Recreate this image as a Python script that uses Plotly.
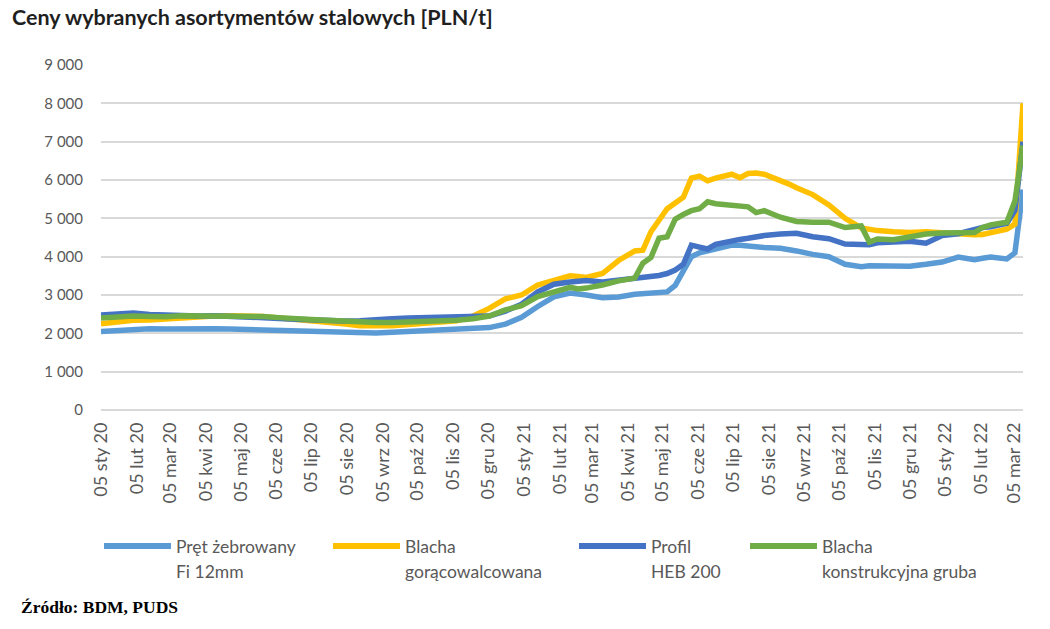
import plotly.graph_objects as go

dates = [
    "2020-01-05", "2020-01-19", "2020-02-02", "2020-02-16", "2020-03-01", "2020-03-15",
    "2020-03-29", "2020-04-12", "2020-04-26", "2020-05-10", "2020-05-24", "2020-06-07",
    "2020-06-21", "2020-07-05", "2020-07-19", "2020-08-02", "2020-08-16", "2020-08-30",
    "2020-09-13", "2020-09-27", "2020-10-11", "2020-10-25", "2020-11-08", "2020-11-22",
    "2020-12-06", "2020-12-20", "2021-01-03", "2021-01-17", "2021-01-31", "2021-02-14",
    "2021-02-21", "2021-02-28", "2021-03-14", "2021-03-28", "2021-04-11", "2021-04-18",
    "2021-04-25", "2021-05-02", "2021-05-09", "2021-05-16", "2021-05-23", "2021-05-30",
    "2021-06-06", "2021-06-13", "2021-06-20", "2021-07-04", "2021-07-11", "2021-07-18",
    "2021-07-25", "2021-08-01", "2021-08-15", "2021-08-22", "2021-08-29", "2021-09-12",
    "2021-09-26", "2021-10-10", "2021-10-24", "2021-10-31", "2021-11-07", "2021-11-21",
    "2021-12-05", "2021-12-19", "2022-01-02", "2022-01-16", "2022-01-30", "2022-02-06",
    "2022-02-13", "2022-02-27", "2022-03-06", "2022-03-13",
]

pret = [
    2050, 2080, 2120, 2120, 2110, 2120,
    2110, 2120, 2110, 2100, 2080, 2060,
    2040, 2030, 2020, 2010, 2000, 2010,
    2030, 2050, 2070, 2090, 2100, 2120,
    2150, 2240, 2420, 2700, 2950, 3050,
    3030, 3000, 2930, 2950, 3020, 3040,
    3050, 3060, 3080, 3250, 3650, 4000,
    4100, 4150, 4200, 4300, 4300, 4270,
    4260, 4240, 4220, 4200, 4150, 4060,
    4000, 3800, 3740, 3760, 3760, 3750,
    3750, 3800, 3860, 3990, 3920, 3960,
    3990, 3940, 4100, 5750,
]

blacha_gor = [
    2250, 2300, 2340, 2350, 2380, 2400,
    2430, 2450, 2460, 2460, 2440, 2400,
    2370, 2340, 2300, 2250, 2200, 2190,
    2200, 2230, 2260, 2290, 2330, 2450,
    2650, 2900, 3000, 3260, 3390, 3500,
    3480, 3460, 3560, 3900, 4150, 4170,
    4650, 4950, 5250, 5400, 5550, 6050,
    6100, 5980, 6050, 6150, 6060, 6170,
    6180, 6150, 6000, 5900, 5800, 5620,
    5350, 5000, 4750, 4700, 4680, 4650,
    4630, 4650, 4620, 4580, 4570, 4580,
    4620, 4720, 4850, 8000,
]

profil = [
    2480, 2510, 2530, 2490, 2480, 2440,
    2450, 2460, 2450, 2440, 2420, 2390,
    2370, 2350, 2340, 2320, 2330, 2340,
    2380, 2400, 2410, 2420, 2420, 2430,
    2450, 2580, 2760, 3080, 3280, 3340,
    3360, 3380, 3340, 3390, 3430, 3440,
    3470, 3510, 3560, 3650, 3800, 4300,
    4250, 4200, 4320, 4420, 4450, 4480,
    4520, 4550, 4590, 4600, 4610, 4520,
    4470, 4330, 4300, 4310, 4360, 4390,
    4400, 4350, 4550, 4600, 4730, 4760,
    4780, 4870, 5200, 7000,
]

blacha_konstr = [
    2400, 2440, 2450, 2440, 2430, 2460,
    2460, 2470, 2460, 2460, 2440, 2410,
    2370, 2360, 2340, 2310, 2290, 2280,
    2280, 2290, 2310, 2320, 2340, 2380,
    2450, 2610, 2720, 2960, 3080, 3200,
    3160, 3180, 3260, 3370, 3440, 3830,
    3980, 4480, 4520, 4980, 5100, 5200,
    5250, 5430, 5380, 5350, 5330, 5300,
    5150, 5200, 5030, 4960, 4920, 4900,
    4900, 4760, 4800, 4380, 4460, 4440,
    4520, 4590, 4620, 4620, 4630, 4760,
    4830, 4900, 5450, 6900,
]

series_line1 = ["Pręt żebrowany", "Blacha", "Profil", "Blacha"]
series_line2 = ["Fi 12mm", "gorącowalcowana", "HEB 200", "konstrukcyjna gruba"]
series_colors = ["#5B9BD5", "#FFC000", "#4472C4", "#70AD47"]
series_values = [pret, blacha_gor, profil, blacha_konstr]

month_abbr = ["sty", "lut", "mar", "kwi", "maj", "cze", "lip", "sie", "wrz", "paź", "lis", "gru"]
tick_dates = []
tick_labels = []
for year in (2020, 2021, 2022):
    for m in range(12):
        if year == 2022 and m > 2:
            break
        tick_dates.append(f"{year}-{m+1:02d}-05")
        tick_labels.append(f"05 {month_abbr[m]} {str(year)[2:]}")

y_ticks = [0, 1000, 2000, 3000, 4000, 5000, 6000, 7000, 8000, 9000]
y_labels = ["0", "1 000", "2 000", "3 000", "4 000", "5 000", "6 000", "7 000", "8 000", "9 000"]

# layout geometry (page margin removed by post_script, figure fills the window)
FIG_W, FIG_H = 1050, 629
L, T, R, B = 101, 65, 27, 219
PW = FIG_W - L - R
PH = FIG_H - T - B


def px(xw):
    return (xw - L) / PW


def py(yw):
    return (FIG_H - B - yw) / PH


fig = go.Figure()
for name, color, vals in zip(series_line1, series_colors, series_values):
    fig.add_trace(go.Scatter(x=dates, y=vals, mode="lines", name=name,
                             line=dict(color=color, width=5.5), showlegend=False))

font_main = "Lato, 'Open Sans', sans-serif"
fig.update_layout(
    width=FIG_W, height=FIG_H,
    paper_bgcolor="white", plot_bgcolor="white",
    margin=dict(l=L, r=R, t=T, b=B, autoexpand=False),
    font=dict(family=font_main, size=15, color="#595959"),
    showlegend=False,
    xaxis=dict(type="date", range=["2020-01-05", "2022-03-13"],
               tickvals=tick_dates, ticktext=tick_labels, tickangle=-90,
               showgrid=False, showline=False, zeroline=False, ticks="",
               ticklabelstandoff=8, tickfont=dict(size=18, color="#595959")),
    yaxis=dict(range=[0, 9000], tickvals=y_ticks, ticktext=y_labels,
               showgrid=True, gridcolor="#D9D9D9", gridwidth=1.5,
               zeroline=True, zerolinecolor="#D9D9D9", zerolinewidth=1.5,
               showline=False, ticks="", ticklabelstandoff=17,
               tickfont=dict(size=15, color="#595959")),
)

# title
fig.add_annotation(text="<b>Ceny wybranych asortymentów stalowych [PLN/t]</b>",
                   xref="paper", yref="paper", x=px(10), y=py(17),
                   xanchor="left", yanchor="middle", showarrow=False,
                   font=dict(family=font_main, size=21.5, color="#1F1F1F"))

# custom legend (long line samples like the original)
leg_line_x = [(104, 171), (333, 400), (579, 646), (750, 817)]
for (x0, x1), color, t1, t2 in zip(leg_line_x, series_colors, series_line1, series_line2):
    fig.add_shape(type="line", xref="paper", yref="paper",
                  x0=px(x0), x1=px(x1), y0=py(546), y1=py(546),
                  line=dict(color=color, width=6))
    fig.add_annotation(text=t1, xref="paper", yref="paper", x=px(x1 + 3), y=py(546),
                       xanchor="left", yanchor="middle", showarrow=False,
                       font=dict(family=font_main, size=17.5, color="#595959"))
    fig.add_annotation(text=t2, xref="paper", yref="paper", x=px(x1 + 3), y=py(571),
                       xanchor="left", yanchor="middle", showarrow=False,
                       font=dict(family=font_main, size=17.5, color="#595959"))

fig.add_annotation(text="<b>Źródło: BDM, PUDS</b>", xref="paper", yref="paper",
                   x=px(19), y=py(607), xanchor="left", yanchor="middle", showarrow=False,
                   font=dict(family="'Liberation Serif', serif", size=17.5, color="black"))

fig.write_html("out.html", config={"displayModeBar": False},
               post_script="document.body.style.margin='0';")
